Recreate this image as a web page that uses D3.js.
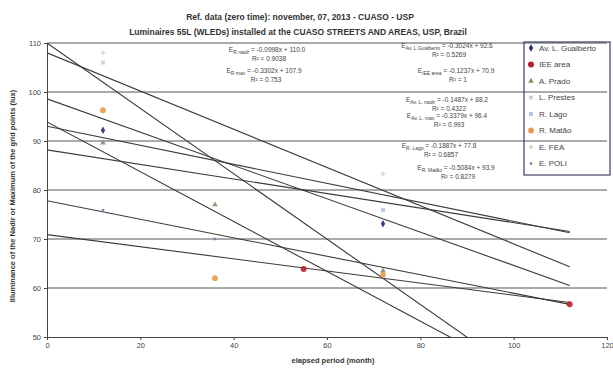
<!DOCTYPE html>
<html>
<head>
<meta charset="utf-8">
<script src="https://cdn.jsdelivr.net/npm/d3@7"></script>
<style>
  body { margin: 0; background: #fff; }
  svg { font-family: "Liberation Sans", Arial, sans-serif; }
</style>
</head>
<body>
<div id="chart"></div>
<script>
// measured points, one list per series
const seriesNames = ["Av. L. Gualberto", "IEE area", "A. Prado", "L. Prestes",
  "R. Lago", "R. Matão", "E. FEA", "E. POLI"];
const seriesMonths = [
  [12, 72],
  [55, 112],
  [12, 36, 72],
  [12],
  [72],
  [12, 36, 72],
  [12, 72],
  [12, 36]
];
const seriesLux = [
  [92.2, 73.1],
  [63.9, 56.7],
  [89.6, 77.0, 63.5],
  [106.0],
  [75.9],
  [96.3, 62.0, 62.7],
  [108.0, 83.3],
  [75.9, 70.0]
];

// linear trendlines (lux = slope * month + intercept)
const trendSlopes = [-0.667, -0.39, -0.34, -0.5084, -0.194, -0.1487, -0.1887, -0.1237];
const trendIntercepts = [110.0, 108.0, 98.6, 93.9, 93.0, 88.2, 77.8, 70.9];
const trendEnd = 112;

const xTicks = [0, 20, 40, 60, 80, 100, 120];
const yTicks = [50, 60, 70, 80, 90, 100, 110];

const eqNames = ["R nadir", "R max", "Av. L.Gualberto", "IEE area",
  "Av. L. nadir", "Av. L. max", "R. Lago", "R. Matão"];
const eqFormulas = ["= -0.0998x + 110.0", "= -0.3302x + 107.9", "= -0.3024x + 92.6",
  "= -0.1237x + 70.9", "= -0.1487x + 88.2", "= -0.3379x + 96.4",
  "= -0.1887x + 77.8", "= -0.5084x + 93.9"];
const eqR2 = ["R² = 0.9038", "R² = 0.753", "R² = 0.5269", "R² = 1",
  "R² = 0.4322", "R² = 0.993", "R² = 0.6857", "R² = 0.8279"];

const title1 = "Ref. data (zero time): november, 07, 2013 - CUASO - USP";
const title2 = "Luminaires 55L (WLEDs) installed at the CUASO STREETS AND AREAS, USP, Brazil";

const width = 613, height = 368;
const x = d3.scaleLinear().domain([0, 120]).range([47, 607]);
const y = d3.scaleLinear().domain([50, 110]).range([337, 43]);

const svg = d3.select("#chart").append("svg")
  .attr("width", width)
  .attr("height", height);

svg.append("defs").append("clipPath").attr("id", "plot")
  .append("rect")
  .attr("x", x(0)).attr("y", y(110))
  .attr("width", x(120) - x(0)).attr("height", y(50) - y(110));

// titles
svg.append("text").attr("x", 300).attr("y", 20)
  .attr("text-anchor", "middle").style("font-size", "8.5px").style("font-weight", "bold")
  .attr("fill", "#333").text(title1);
svg.append("text").attr("x", 298).attr("y", 35)
  .attr("text-anchor", "middle").style("font-size", "8.5px").style("font-weight", "bold")
  .attr("fill", "#333").text(title2);

// gridlines
svg.append("g")
  .selectAll("line")
  .data(yTicks.filter(d => d > 50))
  .enter()
  .append("line")
  .attr("x1", x(0)).attr("x2", x(120))
  .attr("y1", d => y(d)).attr("y2", d => y(d))
  .attr("stroke", "#555").attr("stroke-width", 1);

// axes
const yAxis = svg.append("g")
  .attr("transform", "translate(" + x(0) + ",0)")
  .call(d3.axisLeft(y).tickValues(yTicks).tickSize(3).tickSizeOuter(0));
const xAxis = svg.append("g")
  .attr("transform", "translate(0," + y(50) + ")")
  .call(d3.axisBottom(x).tickValues(xTicks).tickSize(3).tickSizeOuter(0));
[xAxis, yAxis].forEach(a => {
  a.select(".domain").attr("stroke", "#444");
  a.selectAll(".tick line").attr("stroke", "#444");
  a.selectAll(".tick text").attr("fill", "#444").style("font-size", "7.5px");
});

// trendlines
svg.append("g").attr("clip-path", "url(#plot)")
  .selectAll("line")
  .data(trendSlopes)
  .enter()
  .append("line")
  .attr("x1", x(0))
  .attr("y1", (d, i) => y(trendIntercepts[i]))
  .attr("x2", x(trendEnd))
  .attr("y2", (d, i) => y(d * trendEnd + trendIntercepts[i]))
  .attr("stroke", "#3a3a3a")
  .attr("stroke-width", 1.1);

// markers
const colors = ["#1f2a7a", "#b8202a", "#8c8a6c", "#c3c8dc", "#b4c6e6", "#e39a4a", "#d6d6c2", "#6a80b8"];
const symbols = [d3.symbolDiamond, d3.symbolCircle, d3.symbolTriangle, d3.symbolCross,
  d3.symbolSquare, d3.symbolCircle, d3.symbolCross, d3.symbolSquare];
const sizes = [16, 28, 14, 14, 16, 26, 12, 6];

const points = [];
seriesNames.forEach((n, i) => {
  seriesMonths[i].forEach((m, j) => points.push({s: i, m: m, v: seriesLux[i][j]}));
});
svg.append("g")
  .selectAll("path")
  .data(points)
  .enter()
  .append("path")
  .attr("d", d => d3.symbol().type(symbols[d.s]).size(sizes[d.s])())
  .attr("transform", d => "translate(" + x(d.m) + "," + y(d.v) + ")" + (d.s === 3 ? " rotate(45)" : ""))
  .attr("fill", d => colors[d.s])
  .attr("opacity", 0.9);

// equations
const eqX = [267, 264, 447, 456, 447, 447, 439, 456];
const eqY = [52, 73, 48, 73, 102, 118, 148, 170];
const eq = svg.append("g").attr("fill", "#444").style("font-size", "6.5px");
eqNames.forEach((n, i) => {
  const t = eq.append("text").attr("x", eqX[i]).attr("y", eqY[i]).attr("text-anchor", "middle");
  t.append("tspan").text("E");
  t.append("tspan").attr("dy", 1.5).style("font-size", "5px").text(n);
  t.append("tspan").attr("dy", -1.5).text(" " + eqFormulas[i]);
  eq.append("text").attr("x", eqX[i] + 2).attr("y", eqY[i] + 9)
    .attr("text-anchor", "middle").text(eqR2[i]);
});

// legend
const lg = svg.append("g");
lg.append("rect").attr("x", 524).attr("y", 42).attr("width", 86).attr("height", 133)
  .attr("fill", "none").attr("stroke", "#3a3f63").attr("stroke-width", 1.2);
seriesNames.forEach((n, i) => {
  const ly = 48 + i * 16.5;
  lg.append("path")
    .attr("d", d3.symbol().type(symbols[i]).size(sizes[i])())
    .attr("transform", "translate(531," + ly + ")" + (i === 3 ? " rotate(45)" : ""))
    .attr("fill", colors[i]);
  lg.append("text").attr("x", 539).attr("y", ly + 2.8)
    .attr("fill", "#444").style("font-size", "8px").text(n);
});

// axis titles
svg.append("text").attr("x", 333).attr("y", 363)
  .attr("text-anchor", "middle").style("font-size", "7.5px").style("font-weight", "bold")
  .attr("fill", "#333").text("elapsed period (month)");
svg.append("text")
  .attr("transform", "translate(15,196) rotate(-90)")
  .attr("text-anchor", "middle").style("font-size", "7.5px").style("font-weight", "bold")
  .attr("fill", "#333").text("Illuminance of the Nadir or Maximum of the grid points (lux)");
</script>
</body>
</html>
